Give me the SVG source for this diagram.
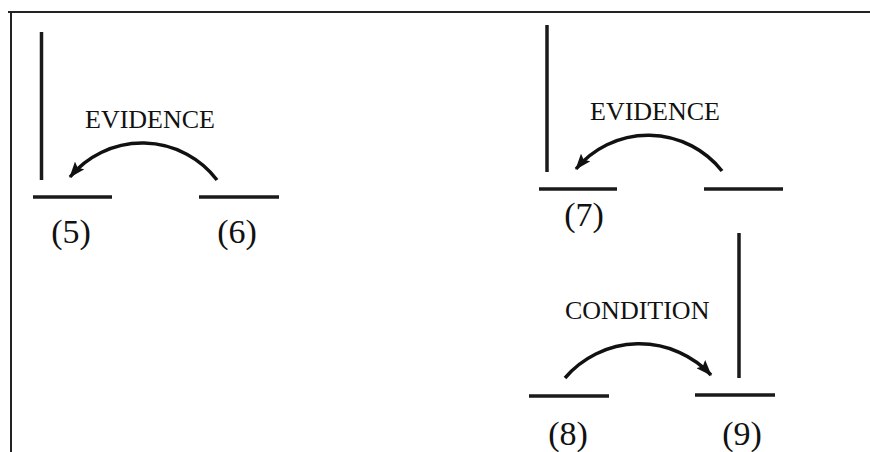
<svg xmlns="http://www.w3.org/2000/svg" width="870" height="452" viewBox="0 0 870 452">
<defs>
<style>
.ln{stroke:#1a1a1a;stroke-width:3.5;fill:none;stroke-linecap:butt}
.arc{stroke:#111;stroke-width:3.5;fill:none}
.lbl{font-family:"Liberation Serif","Times New Roman",serif;font-size:26px;fill:#111}
.num{font-family:"Liberation Serif","Times New Roman",serif;font-size:34px;fill:#111;text-anchor:middle}
.frame{stroke:#222;stroke-width:2;fill:none}
</style>
<marker id="ah" markerWidth="16" markerHeight="12" refX="15" refY="6" orient="auto" markerUnits="userSpaceOnUse">
<path d="M0,0 L16,6 L0,12 L3,6 Z" fill="#111"/>
</marker>
</defs>
<rect width="870" height="452" fill="#fff"/>
<path class="frame" d="M8,12 H870 M11,12 V452"/>
<g id="n5">
<line class="ln" x1="41.5" y1="32" x2="41.5" y2="180"/>
<line class="ln" x1="33" y1="197" x2="112" y2="197"/>
<text class="num" x="71" y="243">(5)</text>
</g>
<g id="n6">
<line class="ln" x1="199" y1="197" x2="279" y2="197"/>
<text class="num" x="237" y="243">(6)</text>
</g>
<g id="n7">
<line class="ln" x1="547" y1="25" x2="547" y2="172"/>
<line class="ln" x1="539" y1="189" x2="617" y2="189"/>
<text class="num" x="584" y="226">(7)</text>
</g>
<g id="n7b">
<line class="ln" x1="704" y1="189" x2="783" y2="189"/>
</g>
<g id="n8">
<line class="ln" x1="529" y1="396" x2="609" y2="396"/>
<text class="num" x="568" y="445">(8)</text>
</g>
<g id="n9">
<line class="ln" x1="739" y1="233" x2="739" y2="378"/>
<line class="ln" x1="695" y1="395" x2="775" y2="395"/>
<text class="num" x="742" y="445">(9)</text>
</g>
<g id="connectors">
<path class="arc" d="M217,180 A94,94 0 0,0 70,177" marker-end="url(#ah)"/>
<text class="lbl" x="85" y="128">EVIDENCE</text>
<path class="arc" d="M722,171 A94,94 0 0,0 576,169" marker-end="url(#ah)"/>
<text class="lbl" x="590" y="120">EVIDENCE</text>
<path class="arc" d="M565,378 A98,98 0 0,1 711,375" marker-end="url(#ah)"/>
<text class="lbl" x="565" y="319">CONDITION</text>
</g>
</svg>
